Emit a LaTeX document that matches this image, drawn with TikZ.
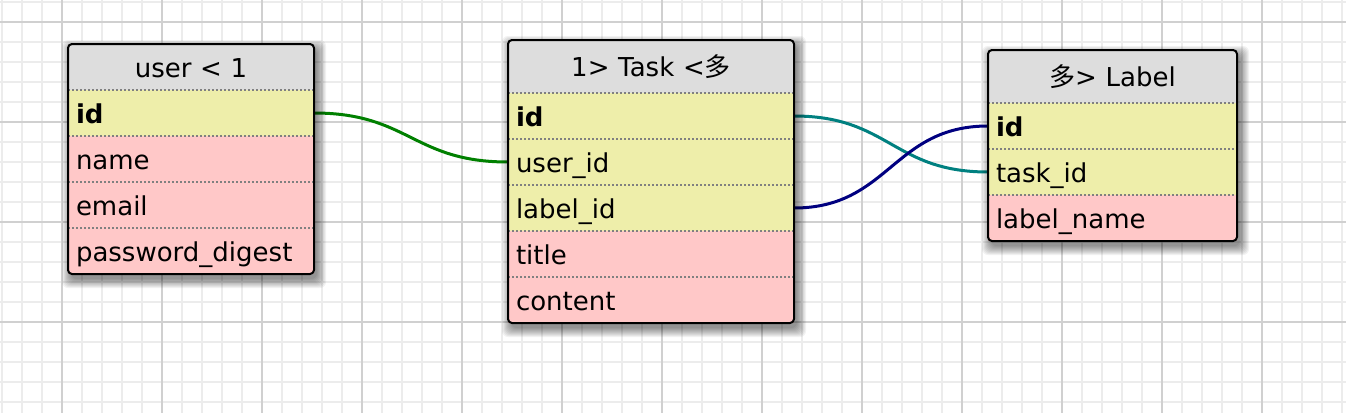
\documentclass[tikz,border=0pt]{standalone}
\usepackage{fontspec}
\setmainfont{DejaVu Sans}
\newfontfamily\cjk{Noto Sans CJK SC}
\definecolor{headgray}{RGB}{221,221,221}
\definecolor{keyyellow}{RGB}{238,238,170}
\definecolor{rowpink}{RGB}{255,200,200}
\definecolor{dotgray}{RGB}{128,128,128}
\definecolor{minorline}{RGB}{236,236,236}
\definecolor{majorline}{RGB}{208,208,208}
\definecolor{usergreen}{RGB}{0,128,0}
\definecolor{taskteal}{RGB}{0,128,128}
\definecolor{labelnavy}{RGB}{0,0,128}
\pgfdeclarelayer{grid}
\pgfdeclarelayer{links}
\pgfdeclarelayer{shadowlayer}
\pgfsetlayers{grid,links,shadowlayer,main}
\tikzset{
	every node/.style={rectangle,outer sep=0pt,inner ysep=0pt,inner xsep=8pt,font=\fontsize{26}{31}\selectfont,text height=23pt,text depth=3pt},
	head/.style={fill=headgray,align=center},
	keyrow/.style={fill=keyyellow,align=left,minimum height=46pt},
	fieldrow/.style={fill=rowpink,align=left,minimum height=46pt},
	usercol/.style={minimum width=246pt,text width=230pt},
	taskcol/.style={minimum width=286pt,text width=270pt},
	labelcol/.style={minimum width=249pt,text width=233pt},
	rowline/.style={draw=dotgray,line width=2pt,dash pattern=on 2pt off 2pt},
	tblborder/.style={draw=black,line width=2pt,rounded corners=4pt},
	shadowstep/.style={fill=black,fill opacity=0.05,rounded corners=6pt},
	minorgrid/.style={draw=minorline,line width=1.5pt},
	majorgrid/.style={draw=majorline,line width=1.5pt},
	link/.style={line width=3pt}
	}
% soft shadow under a table, from its north west to its south east corner
\newcommand\tblshadow[2]{%
	\foreach \s in {0,...,9}
		\fill[shadowstep] ([shift={(3-\s,5-\s)}]#1) rectangle ([shift={(3+\s,5+\s)}]#2);}
\begin{document}
\begin{tikzpicture}[x=1pt,y=-1pt]
	\useasboundingbox (0,0) rectangle (1346,413);
	\begin{pgfonlayer}{grid}
		\fill[white] (0,0) rectangle (1346,413);
		\foreach \gx in {2,22,...,1342} \draw[minorgrid] (\gx,0) -- (\gx,413);
		\foreach \gy in {2,22,...,412} \draw[minorgrid] (0,\gy) -- (1346,\gy);
		\foreach \gx in {62,162,...,1262} \draw[majorgrid] (\gx,0) -- (\gx,413);
		\foreach \gy in {22,122,...,322} \draw[majorgrid] (0,\gy) -- (1346,\gy);
	\end{pgfonlayer}

	% user
	\node[head,usercol,minimum height=46pt] (user) at (191,67) {user < 1};
	\node[keyrow,usercol] (user-id) at (191,113) {\bfseries id};
	\node[fieldrow,usercol] (user-name) at (191,159) {name};
	\node[fieldrow,usercol] (user-email) at (191,205) {email};
	\node[fieldrow,usercol] (user-pw) at (191,251) {password\_digest};

	% Task
	\node[head,taskcol,minimum height=53pt] (task) at (651,66.5) {1> Task <{\cjk 多}};
	\node[keyrow,taskcol] (task-id) at (651,116) {\bfseries id};
	\node[keyrow,taskcol] (task-userid) at (651,162) {user\_id};
	\node[keyrow,taskcol] (task-labelid) at (651,208) {label\_id};
	\node[fieldrow,taskcol] (task-title) at (651,254) {title};
	\node[fieldrow,taskcol] (task-content) at (651,300) {content};

	% Label
	\node[head,labelcol,minimum height=53pt] (label) at (1112.5,76.5) {{\cjk 多}> Label};
	\node[keyrow,labelcol] (label-id) at (1112.5,126) {\bfseries id};
	\node[keyrow,labelcol] (label-taskid) at (1112.5,172) {task\_id};
	\node[fieldrow,labelcol] (label-name) at (1112.5,218) {label\_name};

	\draw[rowline] (user.south west) -- (user.south east);
	\draw[rowline] (user-id.south west) -- (user-id.south east);
	\draw[rowline] (user-name.south west) -- (user-name.south east);
	\draw[rowline] (user-email.south west) -- (user-email.south east);
	\draw[rowline] (task.south west) -- (task.south east);
	\draw[rowline] (task-id.south west) -- (task-id.south east);
	\draw[rowline] (task-userid.south west) -- (task-userid.south east);
	\draw[rowline] (task-labelid.south west) -- (task-labelid.south east);
	\draw[rowline] (task-title.south west) -- (task-title.south east);
	\draw[rowline] (label.south west) -- (label.south east);
	\draw[rowline] (label-id.south west) -- (label-id.south east);
	\draw[rowline] (label-taskid.south west) -- (label-taskid.south east);

	\draw[tblborder] (user.north west) rectangle (user-pw.south east);
	\draw[tblborder] (task.north west) rectangle (task-content.south east);
	\draw[tblborder] (label.north west) rectangle (label-name.south east);

	\begin{pgfonlayer}{shadowlayer}
		\tblshadow{user.north west}{user-pw.south east}
		\tblshadow{task.north west}{task-content.south east}
		\tblshadow{label.north west}{label-name.south east}
	\end{pgfonlayer}

	\begin{pgfonlayer}{links}
		\draw[link,usergreen] (user-id.east) .. controls +(95,0) and +(-95,0) .. (task-userid.west);
		\draw[link,taskteal] (task-id.east) .. controls +(95,0) and +(-95,0) .. (label-taskid.west);
		\draw[link,labelnavy] (task-labelid.east) .. controls +(95,0) and +(-95,0) .. (label-id.west);
	\end{pgfonlayer}
\end{tikzpicture}
\end{document}
